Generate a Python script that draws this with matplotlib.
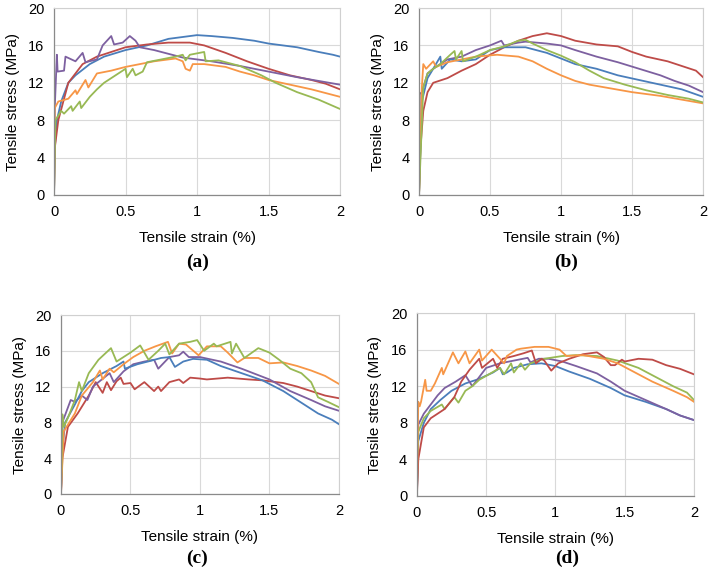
import matplotlib
matplotlib.use("Agg")
import matplotlib.pyplot as plt

plt.rcParams['font.family'] = ['Liberation Sans', 'DejaVu Sans']

C_BLUE = '#4a7ebb'
C_RED = '#be4b48'
C_GREEN = '#98b954'
C_PURPLE = '#7d60a0'
C_ORANGE = '#f79646'

# ---------------- panel (a) ----------------
a_blue_x = [0, 0.005, 0.02, 0.05, 0.1, 0.15, 0.25, 0.35, 0.5, 0.65, 0.8, 0.95, 1.0, 1.1, 1.25, 1.4, 1.5, 1.6, 1.7, 1.85, 1.95, 2.0]
a_blue_y = [0, 5, 8, 10, 12, 12.8, 14, 14.8, 15.5, 16, 16.7, 17.0, 17.1, 17.0, 16.8, 16.5, 16.2, 16.0, 15.8, 15.3, 15.0, 14.8]
a_red_x = [0, 0.005, 0.03, 0.1, 0.2, 0.3, 0.4, 0.5, 0.65, 0.8, 0.95, 1.05, 1.2, 1.35, 1.5, 1.65, 1.8, 1.9, 2.0]
a_red_y = [0, 5, 8, 12, 14, 14.8, 15.3, 15.8, 16.1, 16.3, 16.3, 16.0, 15.2, 14.3, 13.5, 12.8, 12.3, 11.9, 11.3]
a_purple_x = [0, 0.005, 0.02, 0.025, 0.07, 0.08, 0.15, 0.2, 0.22, 0.3, 0.34, 0.4, 0.42, 0.48, 0.53, 0.57, 0.6, 0.7, 0.8, 0.9, 1.0, 1.1, 1.3, 1.5, 1.7, 1.85, 2.0]
a_purple_y = [0, 9.3, 15, 13.2, 13.3, 14.8, 14.3, 15.2, 14.2, 14.5, 16.0, 17.0, 16.1, 16.3, 17.0, 16.5, 15.8, 15.5, 15.1, 14.7, 14.5, 14.3, 13.8, 13.2, 12.6, 12.2, 11.8]
a_orange_x = [0, 0.005, 0.03, 0.1, 0.15, 0.16, 0.22, 0.24, 0.28, 0.3, 0.4, 0.5, 0.6, 0.7, 0.85, 0.9, 0.92, 0.95, 0.97, 1.05, 1.2, 1.3, 1.4, 1.5, 1.65, 1.8, 1.9, 2.0]
a_orange_y = [0, 9.3, 10, 10.3, 11.2, 10.8, 12.3, 11.5, 12.5, 13.0, 13.3, 13.7, 14.0, 14.3, 14.6, 14.3, 13.5, 13.3, 14.0, 14.0, 13.7, 13.2, 12.8, 12.3, 11.8, 11.3, 10.9, 10.5]
a_green_x = [0, 0.005, 0.01, 0.05, 0.07, 0.12, 0.13, 0.18, 0.19, 0.25, 0.3, 0.35, 0.4, 0.45, 0.5, 0.51, 0.55, 0.57, 0.62, 0.65, 0.75, 0.85, 0.9, 0.92, 0.95, 1.05, 1.06, 1.15, 1.3, 1.45, 1.55, 1.7, 1.85, 2.0]
a_green_y = [0, 4.6, 8, 9, 8.7, 9.5, 9.0, 10.0, 9.3, 10.5, 11.3, 12.0, 12.5, 13.0, 13.5, 12.6, 13.5, 12.8, 13.2, 14.2, 14.5, 14.8, 15.0, 14.4, 15.0, 15.3, 14.3, 14.4, 13.8, 12.8, 12.0, 11.0, 10.2, 9.2]

# ---------------- panel (b) ----------------
b_red_x = [0, 0.01, 0.03, 0.06, 0.1, 0.2, 0.3, 0.4, 0.5, 0.6, 0.7, 0.8, 0.9, 1.0, 1.1, 1.25, 1.4, 1.5, 1.6, 1.75, 1.85, 1.95, 2.0]
b_red_y = [0, 5, 9, 11, 12, 12.5, 13.3, 14.0, 15.0, 15.8, 16.5, 17.0, 17.3, 17.0, 16.5, 16.1, 15.9, 15.3, 14.8, 14.3, 13.8, 13.3, 12.6]
b_purple_x = [0, 0.005, 0.02, 0.06, 0.1, 0.2, 0.3, 0.4, 0.5, 0.58, 0.6, 0.7, 0.75, 0.9, 1.0, 1.1, 1.25, 1.4, 1.55, 1.7, 1.8, 1.9, 2.0]
b_purple_y = [0, 10.8, 11, 13, 13.5, 14.5, 14.8, 15.5, 16.0, 16.5, 16.0, 16.3, 16.4, 16.2, 16.0, 15.5, 14.8, 14.2, 13.5, 12.8, 12.2, 11.7, 11.0]
b_blue_x = [0, 0.02, 0.06, 0.1, 0.15, 0.16, 0.22, 0.3, 0.4, 0.45, 0.5, 0.6, 0.75, 0.9, 1.0, 1.1, 1.25, 1.4, 1.55, 1.7, 1.85, 2.0]
b_blue_y = [0, 10, 12.5, 13.5, 14.8, 13.5, 14.5, 14.3, 14.5, 15.0, 15.5, 15.8, 15.8, 15.2, 14.6, 14.0, 13.5, 12.8, 12.3, 11.8, 11.3, 10.5]
b_orange_x = [0, 0.02, 0.03, 0.05, 0.1, 0.12, 0.2, 0.3, 0.4, 0.55, 0.7, 0.8, 0.9, 1.0, 1.1, 1.2, 1.35, 1.5, 1.7, 1.85, 2.0]
b_orange_y = [0, 11.5, 14.0, 13.5, 14.3, 13.7, 14.2, 14.5, 14.8, 15.0, 14.8, 14.3, 13.5, 12.8, 12.2, 11.8, 11.4, 11.0, 10.6, 10.2, 9.8]
b_green_x = [0, 0.03, 0.06, 0.1, 0.15, 0.22, 0.25, 0.26, 0.3, 0.31, 0.4, 0.5, 0.6, 0.7, 0.75, 0.8, 0.9, 1.0, 1.1, 1.2, 1.3, 1.45, 1.6, 1.75, 1.9, 2.0]
b_green_y = [0, 11.5, 13, 13.5, 14, 15, 15.4, 14.5, 15.4, 14.3, 14.8, 15.5, 15.9, 16.5, 16.6, 16.2, 15.5, 14.9, 14.2, 13.3, 12.5, 11.8, 11.2, 10.7, 10.3, 9.9]

# ---------------- panel (c) ----------------
c_green_x = [0, 0.01, 0.02, 0.05, 0.1, 0.13, 0.15, 0.2, 0.27, 0.36, 0.4, 0.5, 0.57, 0.63, 0.7, 0.75, 0.78, 0.85, 0.93, 0.98, 1.03, 1.1, 1.12, 1.22, 1.23, 1.26, 1.32, 1.42, 1.5, 1.57, 1.65, 1.73, 1.8, 1.85, 1.92, 2.0]
c_green_y = [0, 8.9, 7.5, 8.5, 10.5, 12.5, 11.5, 13.5, 15.0, 16.3, 14.8, 15.8, 16.6, 15.0, 16.0, 16.8, 15.6, 16.8, 17.0, 17.2, 16.0, 16.8, 16.5, 17.0, 15.7, 16.8, 15.2, 16.3, 15.8, 15.0, 14.0, 13.5, 12.5, 10.8, 10.3, 9.7]
c_orange_x = [0, 0.02, 0.1, 0.15, 0.23, 0.28, 0.3, 0.35, 0.38, 0.45, 0.52, 0.6, 0.68, 0.77, 0.8, 0.85, 0.9, 0.99, 1.05, 1.15, 1.2, 1.27, 1.32, 1.42, 1.5, 1.6, 1.7, 1.8, 1.9, 2.0]
c_orange_y = [0, 7, 9, 11, 12.5, 13.8, 12.8, 14.0, 13.6, 14.5, 15.3, 16.0, 16.5, 17.0, 15.7, 16.8, 16.7, 15.5, 16.5, 16.5, 15.8, 14.7, 15.2, 15.2, 14.6, 14.7, 14.3, 13.8, 13.2, 12.3]
c_purple_x = [0, 0.01, 0.07, 0.1, 0.15, 0.19, 0.23, 0.27, 0.35, 0.38, 0.45, 0.52, 0.6, 0.67, 0.7, 0.78, 0.85, 0.88, 0.92, 1.0, 1.15, 1.3, 1.5, 1.65, 1.8, 1.9, 2.0]
c_purple_y = [0, 8, 10.5, 10.3, 11, 10.5, 12, 12.5, 13.5, 12.5, 13.7, 14.5, 14.8, 15.0, 14.0, 15.3, 15.5, 15.9, 15.3, 15.3, 14.8, 14.0, 12.8, 11.5, 10.5, 9.8, 9.3]
c_blue_x = [0, 0.01, 0.03, 0.1, 0.15, 0.2, 0.3, 0.4, 0.45, 0.46, 0.55, 0.65, 0.72, 0.78, 0.82, 0.88, 0.95, 1.05, 1.15, 1.3, 1.45, 1.6, 1.75, 1.85, 1.95, 2.0]
c_blue_y = [0, 5, 8, 10, 11.5, 12.5, 13.5, 14.3, 14.8, 14.0, 14.5, 14.9, 15.2, 15.3, 14.2, 14.8, 15.1, 15.0, 14.3, 13.5, 12.7, 11.5, 10.0, 9.0, 8.3, 7.8]
c_red_x = [0, 0.01, 0.05, 0.12, 0.2, 0.25, 0.3, 0.33, 0.36, 0.4, 0.43, 0.45, 0.5, 0.53, 0.6, 0.67, 0.7, 0.72, 0.78, 0.85, 0.88, 0.93, 1.0, 1.05, 1.2, 1.35, 1.45, 1.6, 1.7, 1.8, 1.9, 2.0]
c_red_y = [0, 4, 7.5, 9, 11, 12.5, 11.3, 12.5, 11.6, 12.6, 13.0, 12.3, 12.4, 11.7, 12.5, 11.5, 12.0, 11.5, 12.5, 12.8, 12.4, 13.0, 12.9, 12.8, 13.0, 12.8, 12.7, 12.4, 12.0, 11.5, 11.0, 10.7]

# ---------------- panel (d) ----------------
d_orange_x = [0, 0.01, 0.02, 0.03, 0.06, 0.07, 0.1, 0.13, 0.18, 0.19, 0.26, 0.3, 0.35, 0.38, 0.45, 0.47, 0.54, 0.57, 0.63, 0.65, 0.72, 0.75, 0.85, 0.95, 1.03, 1.08, 1.2, 1.35, 1.45, 1.55, 1.7, 1.85, 1.95, 2.0]
d_orange_y = [0, 10.3, 9.8, 10.3, 12.7, 11.5, 11.5, 12.3, 14.0, 13.3, 15.7, 14.5, 15.8, 14.5, 16.0, 14.8, 16.0, 15.5, 14.5, 15.3, 16.0, 16.1, 16.3, 16.3, 16.0, 15.3, 15.4, 15.0, 14.5, 13.7, 12.5, 11.5, 10.8, 10.3]
d_red_x = [0, 0.01, 0.05, 0.1, 0.2, 0.27, 0.32, 0.38, 0.45, 0.47, 0.55, 0.58, 0.62, 0.7, 0.77, 0.83, 0.86, 0.9, 0.92, 0.97, 1.02, 1.1, 1.2, 1.3, 1.35, 1.4, 1.43, 1.48, 1.5, 1.6, 1.7, 1.8, 1.9, 2.0]
d_red_y = [0, 4, 7.5, 8.5, 9.5, 10.8, 12.5, 13.8, 15.0, 14.0, 15.0, 14.0, 15.0, 15.3, 15.6, 15.9, 14.5, 15.0, 14.8, 13.7, 14.5, 15.0, 15.5, 15.7, 15.2, 14.3, 14.3, 14.9, 14.7, 15.0, 14.9, 14.3, 13.9, 13.3]
d_purple_x = [0, 0.01, 0.05, 0.1, 0.15, 0.2, 0.28, 0.35, 0.4, 0.45, 0.5, 0.6, 0.7, 0.8, 0.82, 0.88, 0.95, 1.05, 1.15, 1.3, 1.4, 1.5, 1.65, 1.8, 1.9, 2.0]
d_purple_y = [0, 7.8, 9, 10, 11, 11.8, 12.5, 13.2, 12.0, 13.0, 14.0, 14.5, 14.8, 15.1, 14.6, 15.0, 15.0, 14.7, 14.2, 13.4, 12.5, 11.5, 10.5, 9.5, 8.8, 8.3]
d_blue_x = [0, 0.01, 0.05, 0.1, 0.17, 0.25, 0.35, 0.45, 0.55, 0.6, 0.62, 0.65, 0.7, 0.8, 0.9, 1.0, 1.1, 1.25, 1.4, 1.5, 1.65, 1.8, 1.9, 2.0]
d_blue_y = [0, 6, 8, 9.5, 10.5, 11.5, 12.3, 12.8, 13.5, 14.0, 13.3, 13.5, 14.0, 14.4, 14.5, 14.2, 13.6, 12.8, 11.8, 11.0, 10.3, 9.5, 8.8, 8.3]
d_green_x = [0, 0.01, 0.05, 0.1, 0.18, 0.2, 0.27, 0.3, 0.35, 0.4, 0.45, 0.52, 0.6, 0.63, 0.68, 0.7, 0.75, 0.78, 0.82, 0.92, 1.05, 1.15, 1.3, 1.45, 1.6, 1.75, 1.85, 1.95, 2.0]
d_green_y = [0, 7, 8.5, 9.3, 10.0, 9.5, 10.8, 10.2, 11.5, 12.0, 12.7, 13.3, 14.0, 13.3, 14.5, 13.5, 14.5, 13.8, 14.5, 15.0, 15.3, 15.4, 15.3, 14.8, 14.0, 12.8, 12.0, 11.3, 10.5]

x_ticks = [0, 0.5, 1, 1.5, 2]
x_tick_labels = ['0', '0.5', '1', '1.5', '2']
y_ticks = [0, 4, 8, 12, 16, 20]
panel_labels = ['(a)', '(b)', '(c)', '(d)']

panels = [
    [(a_blue_x, a_blue_y, C_BLUE), (a_red_x, a_red_y, C_RED), (a_purple_x, a_purple_y, C_PURPLE),
     (a_orange_x, a_orange_y, C_ORANGE), (a_green_x, a_green_y, C_GREEN)],
    [(b_red_x, b_red_y, C_RED), (b_purple_x, b_purple_y, C_PURPLE), (b_blue_x, b_blue_y, C_BLUE),
     (b_orange_x, b_orange_y, C_ORANGE), (b_green_x, b_green_y, C_GREEN)],
    [(c_red_x, c_red_y, C_RED), (c_purple_x, c_purple_y, C_PURPLE), (c_blue_x, c_blue_y, C_BLUE),
     (c_orange_x, c_orange_y, C_ORANGE), (c_green_x, c_green_y, C_GREEN)],
    [(d_blue_x, d_blue_y, C_BLUE), (d_purple_x, d_purple_y, C_PURPLE), (d_green_x, d_green_y, C_GREEN),
     (d_red_x, d_red_y, C_RED), (d_orange_x, d_orange_y, C_ORANGE)],
]

# axes rectangles (left, bottom, width, height) in figure fraction
rects = [
    (0.0762, 0.6567, 0.4034, 0.3292),
    (0.5910, 0.6567, 0.4006, 0.3292),
    (0.0860, 0.1303, 0.3920, 0.3151),
    (0.5880, 0.1268, 0.3907, 0.3221),
]
# panel label centres (pixels from top-left)
label_px = [(198, 262), (566, 262), (197, 558), (567, 558)]
W, H = 709, 568

fig = plt.figure(figsize=(7.09, 5.68), dpi=100)
for i, (rect, series) in enumerate(zip(rects, panels)):
    ax = fig.add_axes(rect)
    for xs, ys, col in series:
        ax.plot(xs, ys, color=col, lw=1.3)
    ax.set_xlim(0, 2)
    ax.set_ylim(0, 20)
    ax.set_xticks(x_ticks)
    ax.set_xticklabels(x_tick_labels)
    ax.set_yticks(y_ticks)
    ax.grid(True, color='#d9d9d9', lw=0.8)
    ax.set_axisbelow(True)
    ax.tick_params(length=0, labelsize=10.5, pad=7)
    for s in ['top', 'right']:
        ax.spines[s].set_color('#d0d0d0')
        ax.spines[s].set_linewidth(0.8)
    for s in ['left', 'bottom']:
        ax.spines[s].set_color('#8a8a8a')
        ax.spines[s].set_linewidth(0.9)
    ax.set_xlabel('Tensile strain (%)', fontsize=11, labelpad=9)
    ax.set_ylabel('Tensile stress (MPa)', fontsize=11, labelpad=6)
    lx, ly = label_px[i]
    fig.text(lx / W, 1 - ly / H, panel_labels[i], ha='center', va='center',
             fontsize=14, fontweight='bold', family=['Liberation Serif', 'DejaVu Serif'])

fig.savefig('out.png', dpi=100)
